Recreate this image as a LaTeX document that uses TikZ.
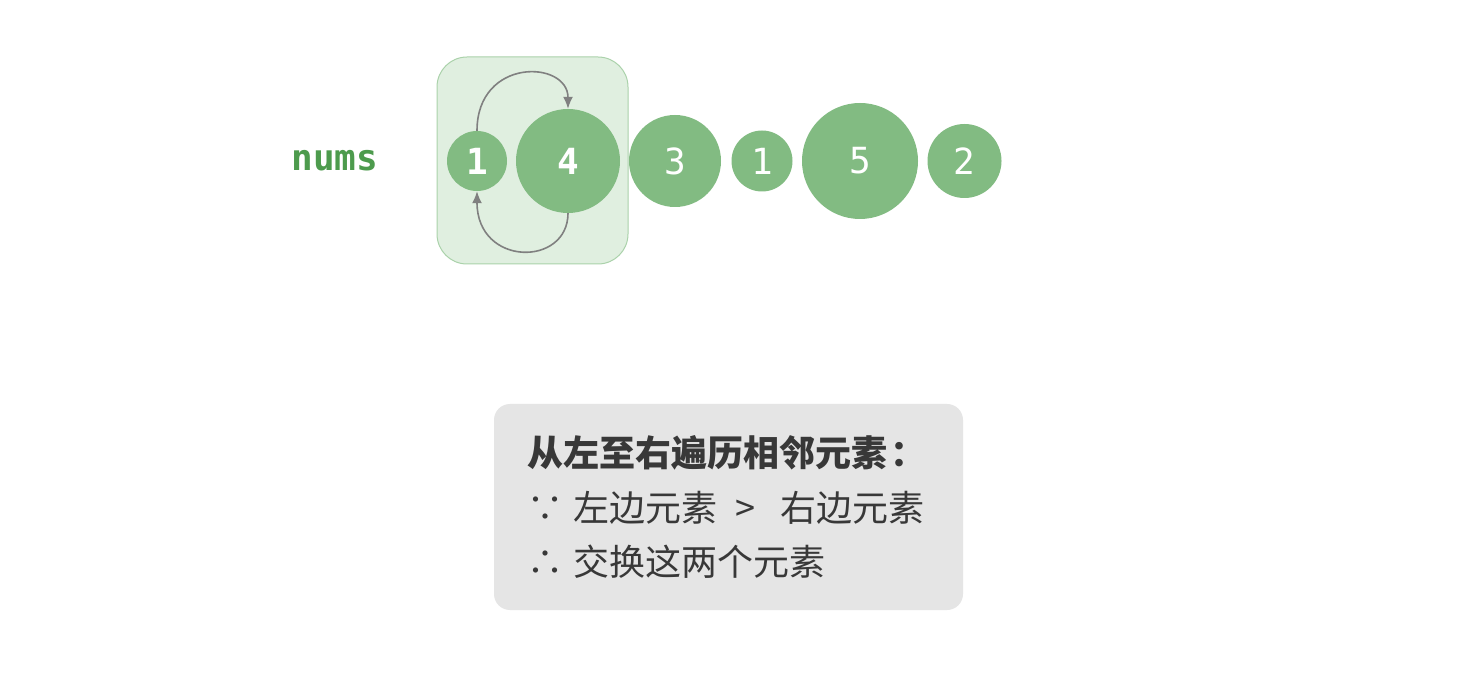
\documentclass[tikz,border=0pt]{standalone}
\usepackage{fontspec}
\usetikzlibrary{arrows.meta,shapes}
\newfontfamily\cjk{Noto Sans CJK SC}
\newfontfamily\codefont{DejaVu Sans Mono}
\definecolor{numgreen}{RGB}{77,155,77}
\definecolor{ballgreen}{RGB}{130,187,130}
\definecolor{hlfill}{RGB}{224,239,224}
\definecolor{hldraw}{RGB}{170,210,170}
\definecolor{notefill}{RGB}{229,229,229}
\definecolor{notetext}{RGB}{56,56,56}
\definecolor{swapgray}{RGB}{128,128,128}

\begin{document}
\begin{tikzpicture}[x=1pt,y=1pt,
        ball/.style={circle,fill=ballgreen,text=white,inner sep=0pt,font=\codefont\fontsize{36}{40}\selectfont},
        hot/.style={ball,font=\codefont\bfseries\fontsize{36}{40}\selectfont},
        noteline/.style={anchor=base west,inner sep=0pt,text=notetext,font=\cjk\fontsize{36}{42}\selectfont},
        swap/.style={draw=swapgray,line width=1.6pt,-{Latex[length=12pt,width=10pt]}}]
        \useasboundingbox[fill=white] (0,0) rectangle (1480,694);
        \node[draw=hldraw,fill=hlfill,rounded corners=30pt,line width=1pt,minimum width=191pt,minimum height=207pt] (window) at (532.5,533.5) {};
        \node[text=numgreen,font=\codefont\bfseries\fontsize{36}{40}\selectfont] (nums) at (335,533) {nums};
        \node[hot,minimum size=60pt] (n0) at (477,533) {1};
        \node[hot,minimum size=104pt] (n1) at (568,533) {4};
        \node[ball,minimum size=92pt] (n2) at (675,533) {3};
        \node[ball,minimum size=61pt] (n3) at (762,533) {1};
        \node[ball,minimum size=116pt] (n4) at (860,533) {5};
        \node[ball,minimum size=74pt] (n5) at (964.5,533) {2};
        \draw[swap] (n0.north) .. controls (477,637) and (568,634) .. (n1.north);
        \draw[swap] (n1.south) .. controls (568,427) and (477,427) .. (n0.south);
        \node[fill=notefill,rounded corners=16pt,minimum width=469pt,minimum height=206pt] (note) at (728.5,187) {};
        \node[noteline,font=\cjk\bfseries\fontsize{36}{42}\selectfont] (title) at (527,227) {从左至右遍历相邻元素\hspace{3pt}：};
        \node[noteline] (cond) at (527,173) {∵\hspace{10pt}左边元素\hspace{18pt}>\hspace{25pt}右边元素};
        \node[noteline] (then) at (527,119) {∴\hspace{10pt}交换这两个元素};
\end{tikzpicture}
\end{document}
